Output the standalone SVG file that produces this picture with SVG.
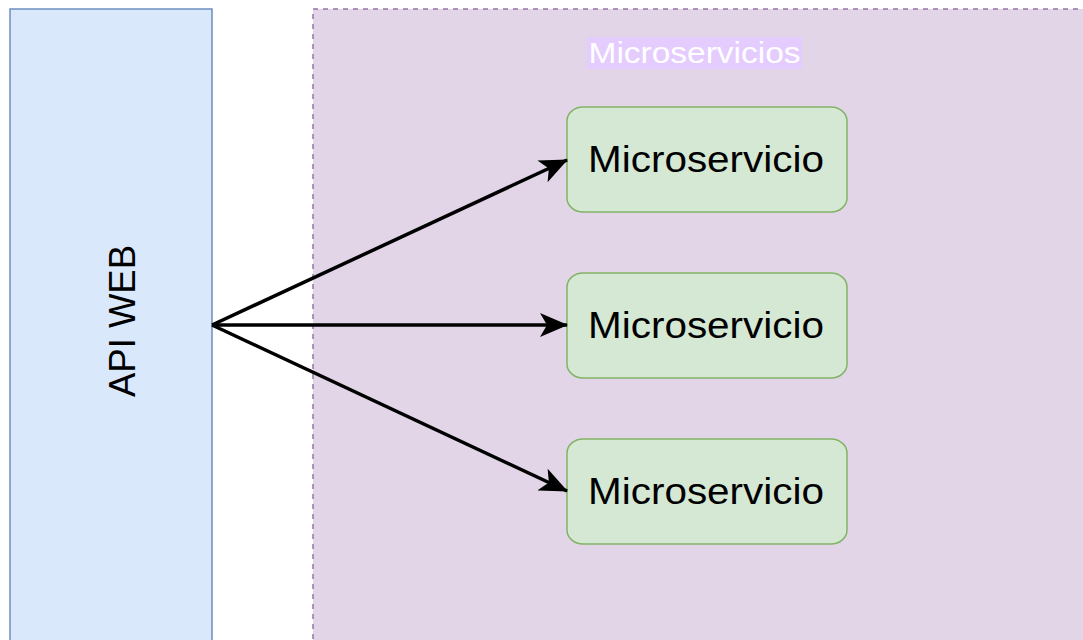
<svg xmlns="http://www.w3.org/2000/svg" width="1083" height="640" viewBox="0 0 1083 640">
  <style>
    .lbl { font-family: "Liberation Sans", Arial, sans-serif; }
    .svc rect { fill: #d5e8d4; stroke: #82b366; stroke-width: 1.5; }
    .svc text { font-size: 36px; fill: #000; text-anchor: middle; }
    .edge { stroke: #000; stroke-width: 3.5; fill: none; marker-end: url(#arrow); }
  </style>
  <defs>
    <marker id="arrow" markerUnits="userSpaceOnUse" viewBox="0 0 28 24" refX="27" refY="12" markerWidth="28" markerHeight="24" orient="auto">
      <path d="M0,0 L28,12 L0,24 L7,12 Z" fill="#000"/>
    </marker>
  </defs>
  <rect width="1083" height="640" fill="#fff"/>

  <!-- API gateway column -->
  <g id="api-web">
    <rect x="10" y="9" width="202" height="650" fill="#dae8fc" stroke="#6c8ebf" stroke-width="1.5"/>
    <text class="lbl" transform="translate(135,321) rotate(-90)" font-size="37" text-anchor="middle" textLength="152" lengthAdjust="spacingAndGlyphs">API WEB</text>
  </g>

  <!-- Services container -->
  <g id="microservicios">
    <rect x="313" y="9" width="790" height="650" fill="#e1d5e7" stroke="#9673a6" stroke-width="1.5" stroke-dasharray="5,5"/>
    <rect x="587" y="37" width="215" height="32" fill="#e5ccff"/>
    <text class="lbl" x="694.5" y="63" font-size="30" fill="#ffffff" text-anchor="middle" textLength="212" lengthAdjust="spacingAndGlyphs">Microservicios</text>
  </g>

  <g id="svc-1" class="svc lbl">
    <rect x="567" y="107" width="280" height="105" rx="16" ry="14"/>
    <text x="706" y="172" textLength="236" lengthAdjust="spacingAndGlyphs">Microservicio</text>
  </g>
  <g id="svc-2" class="svc lbl">
    <rect x="567" y="273" width="280" height="105" rx="16" ry="14"/>
    <text x="706" y="338" textLength="236" lengthAdjust="spacingAndGlyphs">Microservicio</text>
  </g>
  <g id="svc-3" class="svc lbl">
    <rect x="567" y="439" width="280" height="105" rx="16" ry="14"/>
    <text x="706" y="504" textLength="236" lengthAdjust="spacingAndGlyphs">Microservicio</text>
  </g>

  <!-- Connectors -->
  <g id="connectors">
    <path class="edge" d="M212,325 L567,160"/>
    <path class="edge" d="M212,325 L567,325"/>
    <path class="edge" d="M212,325 L567,491"/>
  </g>
</svg>
